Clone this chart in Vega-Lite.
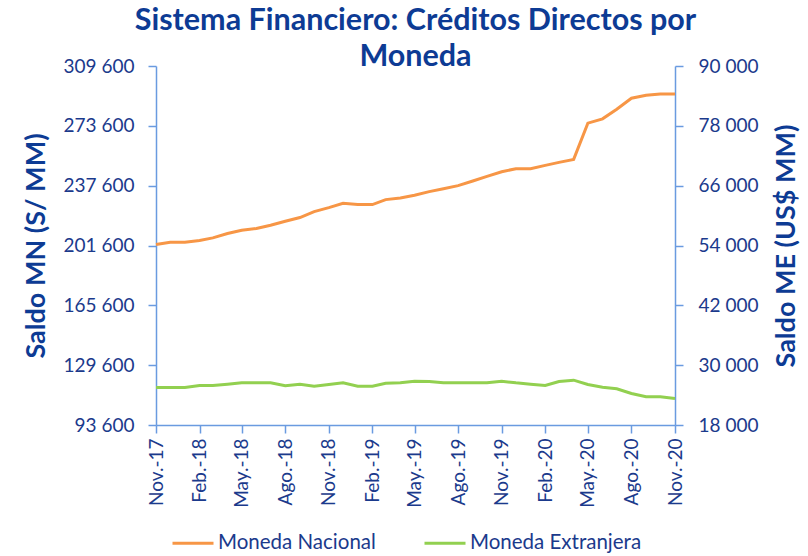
{
  "$schema": "https://vega.github.io/schema/vega-lite/v6.json",
  "width": 519,
  "height": 359,
  "autosize": "none",
  "padding": {"left": 156, "top": 66, "right": 133, "bottom": 131},
  "background": "white",
  "title": {
    "text": ["Sistema Financiero: Créditos Directos por", "Moneda"],
    "font": "Lato",
    "fontSize": 30.5,
    "fontWeight": "bold",
    "color": "#0D3B94",
    "anchor": "middle",
    "lineHeight": 36,
    "offset": -15
  },
  "config": {
    "view": {"stroke": null},
    "locale": {
      "number": {"decimal": ",", "thousands": " ", "grouping": [3], "currency": ["S/", ""]},
      "time": {
        "dateTime": "%A, %e de %B de %Y, %X",
        "date": "%d/%m/%Y",
        "time": "%H:%M:%S",
        "periods": ["AM", "PM"],
        "days": ["domingo", "lunes", "martes", "miércoles", "jueves", "viernes", "sábado"],
        "shortDays": ["dom", "lun", "mar", "mié", "jue", "vie", "sáb"],
        "months": ["enero", "febrero", "marzo", "abril", "mayo", "junio", "julio", "agosto", "setiembre", "octubre", "noviembre", "diciembre"],
        "shortMonths": ["Ene.", "Feb.", "Mar.", "Abr.", "May.", "Jun.", "Jul.", "Ago.", "Set.", "Oct.", "Nov.", "Dic."]
      }
    },
    "axis": {
      "domainColor": "#6A9BE0",
      "tickColor": "#6A9BE0",
      "domainWidth": 1.5,
      "tickWidth": 1.5,
      "tickSize": 8,
      "labelFont": "Lato",
      "labelFontSize": 19,
      "labelColor": "#1B3A8C",
      "titleFont": "Lato",
      "titleFontSize": 27,
      "titleFontWeight": "bold",
      "titleColor": "#0D3B94",
      "grid": false
    },
    "legend": {
      "labelFont": "Lato",
      "labelFontSize": 20.5,
      "labelColor": "#1B3A8C",
      "labelLimit": 400
    }
  },
  "data": {
    "values": [
      {"fecha": "2017/11/01", "mn": 202200, "me": 25525},
      {"fecha": "2017/12/01", "mn": 203600, "me": 25525},
      {"fecha": "2018/01/01", "mn": 203600, "me": 25525},
      {"fecha": "2018/02/01", "mn": 204600, "me": 25926},
      {"fecha": "2018/03/01", "mn": 206200, "me": 25926},
      {"fecha": "2018/04/01", "mn": 208800, "me": 26187},
      {"fecha": "2018/05/01", "mn": 210800, "me": 26460},
      {"fecha": "2018/06/01", "mn": 211800, "me": 26460},
      {"fecha": "2018/07/01", "mn": 213800, "me": 26460},
      {"fecha": "2018/08/01", "mn": 216200, "me": 25860},
      {"fecha": "2018/09/01", "mn": 218400, "me": 26187},
      {"fecha": "2018/10/01", "mn": 222000, "me": 25790},
      {"fecha": "2018/11/01", "mn": 224400, "me": 26120},
      {"fecha": "2018/12/01", "mn": 227000, "me": 26460},
      {"fecha": "2019/01/01", "mn": 226200, "me": 25790},
      {"fecha": "2019/02/01", "mn": 226200, "me": 25790},
      {"fecha": "2019/03/01", "mn": 229200, "me": 26390},
      {"fecha": "2019/04/01", "mn": 230200, "me": 26460},
      {"fecha": "2019/05/01", "mn": 231800, "me": 26760},
      {"fecha": "2019/06/01", "mn": 234000, "me": 26730},
      {"fecha": "2019/07/01", "mn": 235800, "me": 26460},
      {"fecha": "2019/08/01", "mn": 237600, "me": 26460},
      {"fecha": "2019/09/01", "mn": 240400, "me": 26460},
      {"fecha": "2019/10/01", "mn": 243200, "me": 26460},
      {"fecha": "2019/11/01", "mn": 246000, "me": 26790},
      {"fecha": "2019/12/01", "mn": 247800, "me": 26460},
      {"fecha": "2020/01/01", "mn": 247800, "me": 26190},
      {"fecha": "2020/02/01", "mn": 249800, "me": 25926},
      {"fecha": "2020/03/01", "mn": 251600, "me": 26730},
      {"fecha": "2020/04/01", "mn": 253400, "me": 26990},
      {"fecha": "2020/05/01", "mn": 275200, "me": 26120},
      {"fecha": "2020/06/01", "mn": 277800, "me": 25590},
      {"fecha": "2020/07/01", "mn": 283600, "me": 25260},
      {"fecha": "2020/08/01", "mn": 290200, "me": 24320},
      {"fecha": "2020/09/01", "mn": 292000, "me": 23650},
      {"fecha": "2020/10/01", "mn": 292800, "me": 23650},
      {"fecha": "2020/11/01", "mn": 292800, "me": 23320}
    ]
  },
  "encoding": {
    "x": {
      "field": "fecha",
      "type": "temporal",
      "scale": {"domain": [{"year": 2017, "month": 11, "date": 1}, {"year": 2020, "month": 11, "date": 1}]},
      "axis": {
        "title": null,
        "format": "%b-%y",
        "labelAngle": 270,
        "labelPadding": 5,
        "labelFontSize": 19,
        "values": [
          {"year": 2017, "month": 11, "date": 1},
          {"year": 2018, "month": 2, "date": 1},
          {"year": 2018, "month": 5, "date": 1},
          {"year": 2018, "month": 8, "date": 1},
          {"year": 2018, "month": 11, "date": 1},
          {"year": 2019, "month": 2, "date": 1},
          {"year": 2019, "month": 5, "date": 1},
          {"year": 2019, "month": 8, "date": 1},
          {"year": 2019, "month": 11, "date": 1},
          {"year": 2020, "month": 2, "date": 1},
          {"year": 2020, "month": 5, "date": 1},
          {"year": 2020, "month": 8, "date": 1},
          {"year": 2020, "month": 11, "date": 1}
        ]
      }
    }
  },
  "layer": [
    {
      "mark": {"type": "line", "strokeWidth": 3},
      "encoding": {
        "y": {
          "field": "mn",
          "type": "quantitative",
          "scale": {"domain": [93600, 309600], "nice": false, "zero": false},
          "axis": {
            "orient": "left",
            "title": "Saldo MN (S/ MM)",
            "format": ",d",
            "labelPadding": 14,
            "titlePadding": 13,
            "values": [93600, 129600, 165600, 201600, 237600, 273600, 309600]
          }
        },
        "color": {
          "datum": "Moneda Nacional",
          "type": "nominal",
          "scale": {"domain": ["Moneda Nacional", "Moneda Extranjera"], "range": ["#F79646", "#92D050"]},
          "legend": {
            "title": null,
            "orient": "none",
            "direction": "horizontal",
            "legendX": 15,
            "legendY": 455,
            "symbolType": "stroke",
            "symbolSize": 1681,
            "symbolStrokeWidth": 3,
            "labelOffset": 3,
            "columnPadding": 42
          }
        }
      }
    },
    {
      "mark": {"type": "line", "strokeWidth": 3},
      "encoding": {
        "y": {
          "field": "me",
          "type": "quantitative",
          "scale": {"domain": [18000, 90000], "nice": false, "zero": false},
          "axis": {
            "orient": "right",
            "title": "Saldo ME (US$ MM)",
            "titleAngle": 270,
            "titleBaseline": "top",
            "format": ",d",
            "labelPadding": 15,
            "titlePadding": 16,
            "values": [18000, 30000, 42000, 54000, 66000, 78000, 90000]
          }
        },
        "color": {"datum": "Moneda Extranjera", "type": "nominal"}
      }
    }
  ],
  "resolve": {"scale": {"y": "independent"}}
}
